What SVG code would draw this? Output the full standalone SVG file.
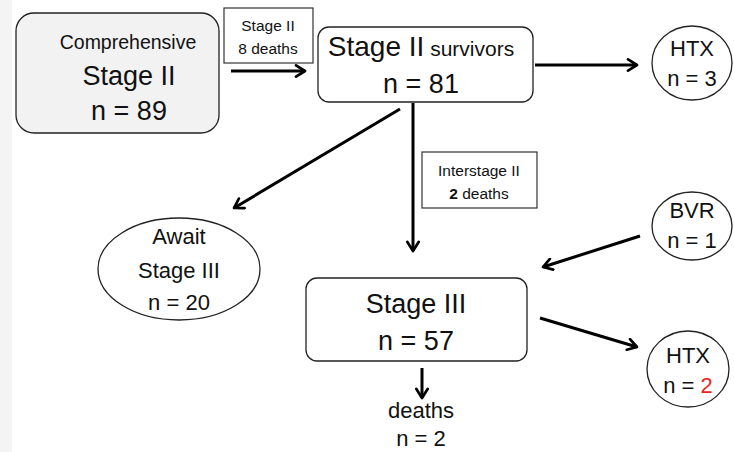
<svg xmlns="http://www.w3.org/2000/svg" width="734" height="452" viewBox="0 0 734 452">
<style>
text{font-family:"Liberation Sans","Open Sans",Arial,sans-serif;fill:#111;text-anchor:middle}
.box{fill:#fff;stroke:#222;stroke-width:1.3}
.lbl{fill:#fff;stroke:#333;stroke-width:1.2}
.con{stroke:#000;stroke-width:3;fill:none;marker-end:url(#ah)}
.s16{font-size:15.5px}.s20{font-size:19.5px}.s22{font-size:22px}.s27{font-size:27px}
</style>
<defs>
<marker id="ah" viewBox="0 0 12 12" refX="10" refY="6" markerWidth="4.5" markerHeight="4.5" orient="auto" markerUnits="strokeWidth">
<path d="M2,1 L10,6 L2,11" fill="none" stroke="#000" stroke-width="2.4" stroke-linecap="round" stroke-linejoin="round"/>
</marker>
</defs>
<rect x="0" y="0" width="734" height="452" fill="#fff"/>
<rect x="0" y="0" width="12" height="452" fill="#f4f4f4"/>
<g id="connectors">
<line class="con" x1="231" y1="71" x2="305" y2="71"/>
<line class="con" x1="535" y1="65" x2="637" y2="65"/>
<line class="con" x1="413" y1="103" x2="413" y2="251"/>
<line class="con" x1="400" y1="109" x2="234" y2="208"/>
<line class="con" x1="640" y1="236" x2="543" y2="267"/>
<line class="con" x1="540" y1="318" x2="637" y2="347"/>
<line class="con" x1="422" y1="368" x2="422" y2="398"/>
</g>
<g id="comprehensive">
<rect x="16" y="13" width="203" height="120" rx="18" fill="#f2f2f2" stroke="#222" stroke-width="1.3"/>
<text class="s20" x="128" y="49">Comprehensive</text>
<text class="s27" x="129" y="85">Stage II</text>
<text class="s27" x="129" y="120">n = 89</text>
</g>
<g id="label-stage2-deaths">
<rect class="lbl" x="224" y="8" width="89" height="55"/>
<text class="s16" x="268" y="31">Stage II</text>
<text class="s16" x="268" y="54">8 deaths</text>
</g>
<g id="survivors">
<rect class="box" x="318" y="27" width="215" height="75" rx="11"/>
<text x="421" y="56"><tspan font-size="28">Stage II</tspan><tspan font-size="21"> survivors</tspan></text>
<text class="s27" x="421" y="93">n = 81</text>
</g>
<g id="htx-top">
<ellipse class="box" cx="692" cy="63" rx="40" ry="37"/>
<text class="s22" x="692" y="56">HTX</text>
<text class="s22" x="692" y="86">n = 3</text>
</g>
<g id="label-interstage">
<rect class="lbl" x="422" y="152" width="115" height="56"/>
<text class="s16" x="479" y="176">Interstage II</text>
<text class="s16" x="479" y="199"><tspan font-weight="bold">2</tspan> deaths</text>
</g>
<g id="await">
<ellipse class="box" cx="179" cy="269" rx="81" ry="51"/>
<text class="s22" x="179" y="244">Await</text>
<text class="s22" x="179" y="278">Stage III</text>
<text class="s22" x="179" y="310">n = 20</text>
</g>
<g id="bvr">
<ellipse class="box" cx="692" cy="226" rx="40" ry="34"/>
<text class="s22" x="692" y="218">BVR</text>
<text class="s22" x="692" y="248">n = 1</text>
</g>
<g id="stage3">
<rect class="box" x="306" y="278" width="221" height="83" rx="11"/>
<text class="s27" x="416" y="313">Stage III</text>
<text class="s27" x="416" y="350">n = 57</text>
</g>
<g id="htx-bottom">
<ellipse class="box" cx="688" cy="369" rx="41" ry="38"/>
<text class="s22" x="688" y="363">HTX</text>
<text class="s22" x="688" y="393">n = <tspan fill="#e8251c">2</tspan></text>
</g>
<g id="deaths">
<text class="s22" x="421" y="418">deaths</text>
<text class="s22" x="421" y="446">n = 2</text>
</g>
</svg>
